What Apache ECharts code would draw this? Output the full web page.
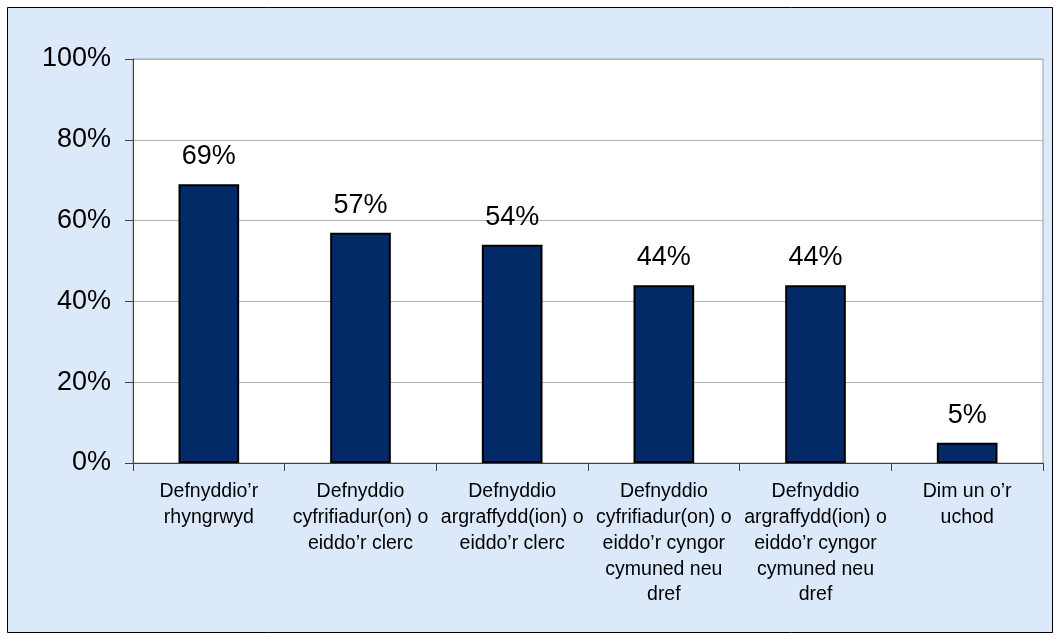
<!DOCTYPE html>
<html>
<head>
<meta charset="utf-8">
<style>
html,body{margin:0;padding:0;background:#fff;}
#chart{width:1060px;height:639px;}
</style>
<script src="https://cdn.jsdelivr.net/npm/echarts@6/dist/echarts.min.js"></script>
</head>
<body>
<div id="chart"></div>
<script>
const categories = [
  "Defnyddio’r\nrhyngrwyd",
  "Defnyddio\ncyfrifiadur(on) o\neiddo’r clerc",
  "Defnyddio\nargraffydd(ion) o\neiddo’r clerc",
  "Defnyddio\ncyfrifiadur(on) o\neiddo’r cyngor\ncymuned neu\ndref",
  "Defnyddio\nargraffydd(ion) o\neiddo’r cyngor\ncymuned neu\ndref",
  "Dim un o’r\nuchod"
];
const values = [69, 57, 54, 44, 44, 5];
const yTicks = [0, 20, 40, 60, 80, 100];

const FONT = "'Liberation Sans', Arial, sans-serif";
const chart = echarts.init(document.getElementById('chart'), null, {renderer: 'canvas'});
chart.setOption({
  animation: false,
  backgroundColor: '#ffffff',
  graphic: [{
    type: 'rect',
    z: -10,
    shape: {x: 7.5, y: 7.5, width: 1045, height: 625},
    style: {fill: '#dce9fb', stroke: '#000000', lineWidth: 1}
  }],
  grid: {
    left: 133, top: 59, right: 17, bottom: 176,
    show: true, backgroundColor: '#ffffff', borderColor: '#a0a0a0', borderWidth: 1
  },
  xAxis: {
    type: 'category',
    data: categories,
    axisLine: {show: true, lineStyle: {color: '#404040', width: 1}},
    axisTick: {show: true, length: 8, alignWithLabel: false, lineStyle: {color: '#404040'}},
    axisLabel: {
      interval: 0, margin: 16, color: '#000', fontFamily: FONT, fontSize: 19.5,
      lineHeight: 25.8, align: 'center'
    }
  },
  yAxis: {
    type: 'value',
    min: yTicks[0], max: yTicks[yTicks.length - 1], interval: 20,
    axisLine: {show: true, lineStyle: {color: '#404040', width: 1}},
    axisTick: {show: true, length: 8, lineStyle: {color: '#404040'}},
    axisLabel: {margin: 22, color: '#000', fontFamily: FONT, fontSize: 27, formatter: '{value}%'},
    splitLine: {show: true, lineStyle: {color: '#b4b4b4', width: 1}}
  },
  series: [{
    type: 'bar',
    data: values,
    barWidth: '40%',
    itemStyle: {color: '#012a66', borderColor: '#000000', borderWidth: 2},
    label: {
      show: true, position: 'top', distance: 14, color: '#000',
      fontFamily: FONT, fontSize: 27, formatter: '{c}%'
    }
  }]
});
</script>
</body>
</html>
